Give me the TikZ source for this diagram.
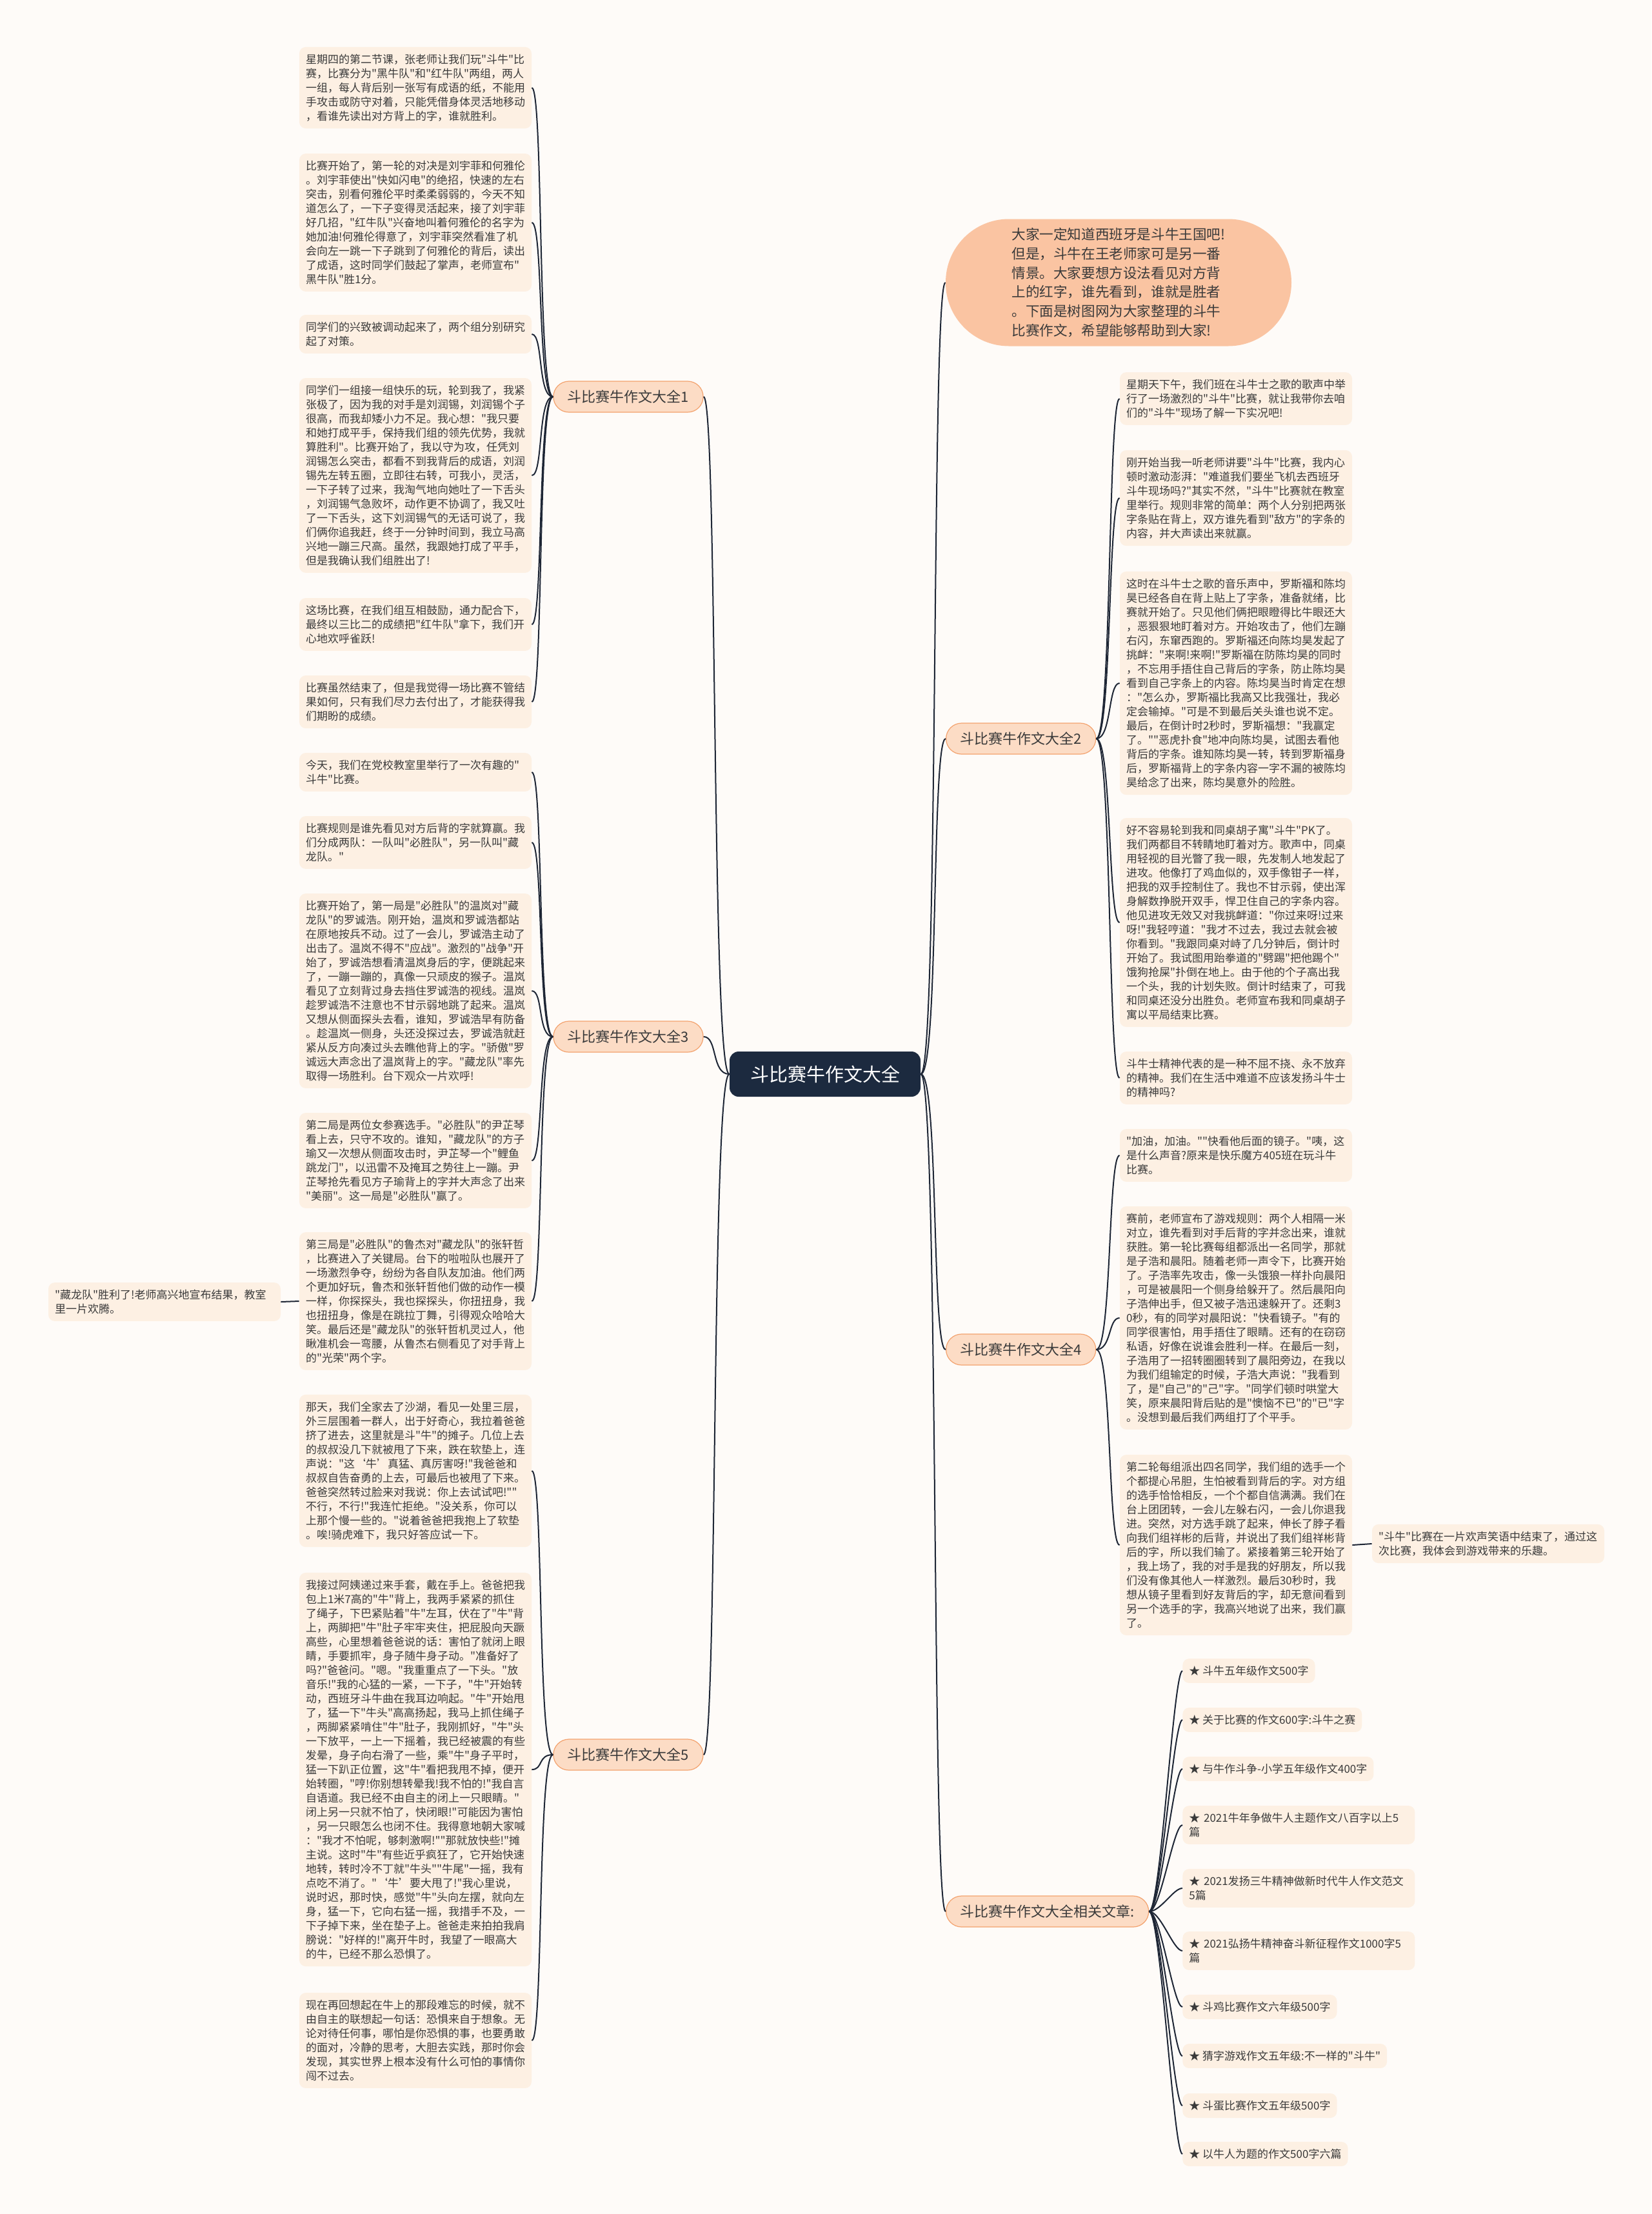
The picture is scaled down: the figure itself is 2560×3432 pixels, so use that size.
\documentclass[tikz,border=0pt]{standalone}
\usepackage{fontspec}
\newfontfamily\cjk{Noto Sans CJK SC}
\definecolor{bgcol}{HTML}{FEFBF8}
\definecolor{leafcol}{HTML}{FDF0E3}
\definecolor{branchcol}{HTML}{FCDCC5}
\definecolor{branchline}{HTML}{F3A26E}
\definecolor{bubblecol}{HTML}{FAC4A2}
\definecolor{rootcol}{HTML}{1C2A3F}
\definecolor{linkcol}{HTML}{1E2635}
\definecolor{textcol}{HTML}{3A3A3A}

\tikzset{
  box/.style={fill=leafcol,rounded corners=5pt,align=left,inner xsep=5pt,
              inner ysep=5.5pt,text=textcol,font=\cjk\fontsize{8.5pt}{11pt}\selectfont},
  leaf/.style={box,text width=170pt},
  branch/.style={fill=branchcol,draw=branchline,line width=0.6pt,rounded corners=12pt,
                 minimum width=116pt,minimum height=24pt,inner xsep=11pt,
                 text=textcol,font=\cjk\fontsize{11pt}{13pt}\selectfont},
  root/.style={fill=rootcol,rounded corners=7pt,minimum width=148pt,minimum height=35pt,
               text=white,font=\cjk\fontsize{14.5pt}{17pt}\selectfont},
  bubble/.style={fill=bubblecol,rounded corners=49pt,minimum width=268pt,minimum height=98.5pt,
                 align=left,text=textcol,font=\cjk\fontsize{10.8pt}{14.8pt}\selectfont},
  link/.style={draw=linkcol,line width=1pt}
}

\begin{document}
\begin{tikzpicture}[x=0.5pt,y=-0.5pt]
  \path[use as bounding box,fill=bgcol] (0,0) rectangle (2560,3432);

  % root and main branches
  \node[root] (root) at (1279,1665) {斗比赛牛作文大全};
  \node[bubble] (intro) at (1734,438) {大家一定知道西班牙是斗牛王国吧!\\但是，斗牛在王老师家可是另一番\\情景。大家要想方设法看见对方背\\上的红字，谁先看到，谁就是胜者\\。下面是树图网为大家整理的斗牛\\比赛作文，希望能够帮助到大家!};
  \node[branch] (b1) at (974,615) {斗比赛牛作文大全1};
  \node[branch] (b3) at (974,1607) {斗比赛牛作文大全3};
  \node[branch] (b5) at (974,2720) {斗比赛牛作文大全5};
  \node[branch,anchor=west] (b2) at (1466,1145) {斗比赛牛作文大全2};
  \node[branch,anchor=west] (b4) at (1466,2092) {斗比赛牛作文大全4};
  \node[branch,anchor=west] (b6) at (1466,2963) {斗比赛牛作文大全相关文章:};

  % essay 1
  \node[leaf] (l1) at (644,136) {星期四的第二节课，张老师让我们玩"斗牛"比\\赛，比赛分为"黑牛队"和"红牛队"两组，两人\\一组，每人背后别一张写有成语的纸，不能用\\手攻击或防守对着，只能凭借身体灵活地移动\\，看谁先读出对方背上的字，谁就胜利。};
  \node[leaf] (l2) at (644,345) {比赛开始了，第一轮的对决是刘宇菲和何雅伦\\。刘宇菲使出"快如闪电"的绝招，快速的左右\\突击，别看何雅伦平时柔柔弱弱的，今天不知\\道怎么了，一下子变得灵活起来，接了刘宇菲\\好几招，"红牛队"兴奋地叫着何雅伦的名字为\\她加油!何雅伦得意了，刘宇菲突然看准了机\\会向左一跳一下子跳到了何雅伦的背后，读出\\了成语，这时同学们鼓起了掌声，老师宣布"\\黑牛队"胜1分。};
  \node[leaf] (l3) at (644,518) {同学们的兴致被调动起来了，两个组分别研究\\起了对策。};
  \node[leaf] (l4) at (644,737) {同学们一组接一组快乐的玩，轮到我了，我紧\\张极了，因为我的对手是刘润锡，刘润锡个子\\很高，而我却矮小力不足。我心想："我只要\\和她打成平手，保持我们组的领先优势，我就\\算胜利"。比赛开始了，我以守为攻，任凭刘\\润锡怎么突击，都看不到我背后的成语，刘润\\锡先左转五圈，立即往右转，可我小，灵活，\\一下子转了过来，我淘气地向她吐了一下舌头\\，刘润锡气急败坏，动作更不协调了，我又吐\\了一下舌头，这下刘润锡气的无话可说了，我\\们俩你追我赶，终于一分钟时间到，我立马高\\兴地一蹦三尺高。虽然，我跟她打成了平手，\\但是我确认我们组胜出了!};
  \node[leaf] (l5) at (644,968) {这场比赛，在我们组互相鼓励，通力配合下，\\最终以三比二的成绩把"红牛队"拿下，我们开\\心地欢呼雀跃!};
  \node[leaf] (l6) at (644,1088) {比赛虽然结束了，但是我觉得一场比赛不管结\\果如何，只有我们尽力去付出了，才能获得我\\们期盼的成绩。};

  % essay 3
  \node[leaf] (l7) at (644,1197) {今天，我们在党校教室里举行了一次有趣的"\\斗牛"比赛。};
  \node[leaf] (l8) at (644,1306) {比赛规则是谁先看见对方后背的字就算赢。我\\们分成两队：一队叫"必胜队"，另一队叫"藏\\龙队。"};
  \node[leaf] (l9) at (644,1536) {比赛开始了，第一局是"必胜队"的温岚对"藏\\龙队"的罗诚浩。刚开始，温岚和罗诚浩都站\\在原地按兵不动。过了一会儿，罗诚浩主动了\\出击了。温岚不得不"应战"。激烈的"战争"开\\始了，罗诚浩想看清温岚身后的字，便跳起来\\了，一蹦一蹦的，真像一只顽皮的猴子。温岚\\看见了立刻背过身去挡住罗诚浩的视线。温岚\\趁罗诚浩不注意也不甘示弱地跳了起来。温岚\\又想从侧面探头去看，谁知，罗诚浩早有防备\\。趁温岚一侧身，头还没探过去，罗诚浩就赶\\紧从反方向凑过头去瞧他背上的字。"骄傲"罗\\诚远大声念出了温岚背上的字。"藏龙队"率先\\取得一场胜利。台下观众一片欢呼!};
  \node[leaf] (l10) at (644,1799) {第二局是两位女参赛选手。"必胜队"的尹芷琴\\看上去，只守不攻的。谁知，"藏龙队"的方子\\瑜又一次想从侧面攻击时，尹芷琴一个"鲤鱼\\跳龙门"，以迅雷不及掩耳之势往上一蹦。尹\\芷琴抢先看见方子瑜背上的字并大声念了出来\\"美丽"。这一局是"必胜队"赢了。};
  \node[leaf] (l11) at (644,2017) {第三局是"必胜队"的鲁杰对"藏龙队"的张轩哲\\，比赛进入了关键局。台下的啦啦队也展开了\\一场激烈争夺，纷纷为各自队友加油。他们两\\个更加好玩，鲁杰和张轩哲他们做的动作一模\\一样，你探探头，我也探探头，你扭扭身，我\\也扭扭身，像是在跳拉丁舞，引得观众哈哈大\\笑。最后还是"藏龙队"的张轩哲机灵过人，他\\瞅准机会一弯腰，从鲁杰右侧看见了对手背上\\的"光荣"两个字。};
  \node[leaf] (l11x) at (255,2018) {"藏龙队"胜利了!老师高兴地宣布结果，教室\\里一片欢腾。};

  % essay 5
  \node[leaf] (l12) at (644,2280) {那天，我们全家去了沙湖，看见一处里三层，\\外三层围着一群人，出于好奇心，我拉着爸爸\\挤了进去，这里就是斗"牛"的摊子。几位上去\\的叔叔没几下就被甩了下来，跌在软垫上，连\\声说："这‘牛’真猛、真厉害呀!"我爸爸和\\叔叔自告奋勇的上去，可最后也被甩了下来。\\爸爸突然转过脸来对我说：你上去试试吧!""\\不行，不行!"我连忙拒绝。"没关系，你可以\\上那个慢一些的。"说着爸爸把我抱上了软垫\\。唉!骑虎难下，我只好答应试一下。};
  \node[leaf] (l13) at (644,2743) {我接过阿姨递过来手套，戴在手上。爸爸把我\\包上1米7高的"牛"背上，我两手紧紧的抓住\\了绳子，下巴紧贴着"牛"左耳，伏在了"牛"背\\上，两脚把"牛"肚子牢牢夹住，把屁股向天蹶\\高些，心里想着爸爸说的话：害怕了就闭上眼\\睛，手要抓牢，身子随牛身子动。"准备好了\\吗?"爸爸问。"嗯。"我重重点了一下头。"放\\音乐!"我的心猛的一紧，一下子，"牛"开始转\\动，西班牙斗牛曲在我耳边响起。"牛"开始甩\\了，猛一下"牛头"高高扬起，我马上抓住绳子\\，两脚紧紧啃住"牛"肚子，我刚抓好，"牛"头\\一下放平，一上一下摇着，我已经被震的有些\\发晕，身子向右滑了一些，乘"牛"身子平时，\\猛一下趴正位置，这"牛"看把我甩不掉，便开\\始转圈，"哼!你别想转晕我!我不怕的!"我自言\\自语道。我已经不由自主的闭上一只眼睛。"\\闭上另一只就不怕了，快闭眼!"可能因为害怕\\，另一只眼怎么也闭不住。我得意地朝大家喊\\："我才不怕呢，够刺激啊!""那就放快些!"摊\\主说。这时"牛"有些近乎疯狂了，它开始快速\\地转，转时冷不丁就"牛头""牛尾"一摇，我有\\点吃不消了。"‘牛’要大甩了!"我心里说，\\说时迟，那时快，感觉"牛"头向左摆，就向左\\身，猛一下，它向右猛一摇，我措手不及，一\\下子掉下来，坐在垫子上。爸爸走来拍拍我肩\\膀说："好样的!"离开牛时，我望了一眼高大\\的牛，已经不那么恐惧了。};
  \node[leaf] (l14) at (644,3163) {现在再回想起在牛上的那段难忘的时候，就不\\由自主的联想起一句话：恐惧来自于想象。无\\论对待任何事，哪怕是你恐惧的事，也要勇敢\\的面对，冷静的思考，大胆去实践，那时你会\\发现，其实世界上根本没有什么可怕的事情你\\闯不过去。};

  % essay 2
  \node[leaf] (r1) at (1916,618) {星期天下午，我们班在斗牛士之歌的歌声中举\\行了一场激烈的"斗牛"比赛，就让我带你去咱\\们的"斗牛"现场了解一下实况吧!};
  \node[leaf] (r2) at (1916,772) {刚开始当我一听老师讲要"斗牛"比赛，我内心\\顿时激动澎湃："难道我们要坐飞机去西班牙\\斗牛现场吗?"其实不然，"斗牛"比赛就在教室\\里举行。规则非常的简单：两个人分别把两张\\字条贴在背上，双方谁先看到"敌方"的字条的\\内容，并大声读出来就赢。};
  \node[leaf] (r3) at (1916,1059) {这时在斗牛士之歌的音乐声中，罗斯福和陈均\\昊已经各自在背上贴上了字条，准备就绪，比\\赛就开始了。只见他们俩把眼瞪得比牛眼还大\\，恶狠狠地盯着对方。开始攻击了，他们左蹦\\右闪，东窜西跑的。罗斯福还向陈均昊发起了\\挑衅："来啊!来啊!"罗斯福在防陈均昊的同时\\，不忘用手捂住自己背后的字条，防止陈均昊\\看到自己字条上的内容。陈均昊当时肯定在想\\："怎么办，罗斯福比我高又比我强壮，我必\\定会输掉。"可是不到最后关头谁也说不定。\\最后，在倒计时2秒时，罗斯福想："我赢定\\了。""恶虎扑食"地冲向陈均昊，试图去看他\\背后的字条。谁知陈均昊一转，转到罗斯福身\\后，罗斯福背上的字条内容一字不漏的被陈均\\昊给念了出来，陈均昊意外的险胜。};
  \node[leaf] (r4) at (1916,1430) {好不容易轮到我和同桌胡子寓"斗牛"PK了。\\我们两都目不转睛地盯着对方。歌声中，同桌\\用轻视的目光瞥了我一眼，先发制人地发起了\\进攻。他像打了鸡血似的，双手像钳子一样，\\把我的双手控制住了。我也不甘示弱，使出浑\\身解数挣脱开双手，悍卫住自己的字条内容。\\他见进攻无效又对我挑衅道："你过来呀!过来\\呀!"我轻哼道："我才不过去，我过去就会被\\你看到。"我跟同桌对峙了几分钟后，倒计时\\开始了。我试图用跆拳道的"劈踢"把他踢个"\\饿狗抢屎"扑倒在地上。由于他的个子高出我\\一个头，我的计划失败。倒计时结束了，可我\\和同桌还没分出胜负。老师宣布我和同桌胡子\\寓以平局结束比赛。};
  \node[leaf] (r5) at (1916,1671) {斗牛士精神代表的是一种不屈不挠、永不放弃\\的精神。我们在生活中难道不应该发扬斗牛士\\的精神吗?};

  % essay 4
  \node[leaf] (r6) at (1916,1791) {"加油，加油。""快看他后面的镜子。"咦，这\\是什么声音?原来是快乐魔方405班在玩斗牛\\比赛。};
  \node[leaf] (r7) at (1916,2043) {赛前，老师宣布了游戏规则：两个人相隔一米\\对立，谁先看到对手后背的字并念出来，谁就\\获胜。第一轮比赛每组都派出一名同学，那就\\是子浩和晨阳。随着老师一声令下，比赛开始\\了。子浩率先攻击，像一头饿狼一样扑向晨阳\\，可是被晨阳一个侧身给躲开了。然后晨阳向\\子浩伸出手，但又被子浩迅速躲开了。还剩3\\0秒，有的同学对晨阳说："快看镜子。"有的\\同学很害怕，用手捂住了眼睛。还有的在窃窃\\私语，好像在说谁会胜利一样。在最后一刻，\\子浩用了一招转圈圈转到了晨阳旁边，在我以\\为我们组输定的时候，子浩大声说："我看到\\了，是"自己"的"己"字。"同学们顿时哄堂大\\笑，原来晨阳背后贴的是"懊恼不已"的"已"字\\。没想到最后我们两组打了个平手。};
  \node[leaf] (r8) at (1916,2395) {第二轮每组派出四名同学，我们组的选手一个\\个都提心吊胆，生怕被看到背后的字。对方组\\的选手恰恰相反，一个个都自信满满。我们在\\台上团团转，一会儿左躲右闪，一会儿你退我\\进。突然，对方选手跳了起来，伸长了脖子看\\向我们组祥彬的后背，并说出了我们组祥彬背\\后的字，所以我们输了。紧接着第三轮开始了\\，我上场了，我的对手是我的好朋友，所以我\\们没有像其他人一样激烈。最后30秒时，我\\想从镜子里看到好友背后的字，却无意间看到\\另一个选手的字，我高兴地说了出来，我们赢\\了。};
  \node[leaf] (r8x) at (2307,2393) {"斗牛"比赛在一片欢声笑语中结束了，通过这\\次比赛，我体会到游戏带来的乐趣。};

  % related articles
  \node[box,anchor=west] (a1) at (1833,2590) {★ 斗牛五年级作文500字};
  \node[box,anchor=west] (a2) at (1833,2666) {★ 关于比赛的作文600字:斗牛之赛};
  \node[box,anchor=west] (a3) at (1833,2742) {★ 与牛作斗争-小学五年级作文400字};
  \node[leaf,anchor=west] (a4) at (1833,2829) {★ 2021牛年争做牛人主题作文八百字以上5\\篇};
  \node[leaf,anchor=west] (a5) at (1833,2927) {★ 2021发扬三牛精神做新时代牛人作文范文\\5篇};
  \node[leaf,anchor=west] (a6) at (1833,3024) {★ 2021弘扬牛精神奋斗新征程作文1000字5\\篇};
  \node[box,anchor=west] (a7) at (1833,3111) {★ 斗鸡比赛作文六年级500字};
  \node[box,anchor=west] (a8) at (1833,3187) {★ 猜字游戏作文五年级:不一样的"斗牛"};
  \node[box,anchor=west] (a9) at (1833,3264) {★ 斗蛋比赛作文五年级500字};
  \node[box,anchor=west] (a10) at (1833,3339) {★ 以牛人为题的作文500字六篇};

  % connectors
  \foreach \b in {b1,b3,b5}
    \draw[link] (root.west) .. controls +(-28,0) and +(22,0) .. (\b.east);
  \foreach \b in {intro,b2,b4,b6}
    \draw[link] (root.east) .. controls +(28,0) and +(-22,0) .. (\b.west);
  \foreach \n in {l1,l2,l3,l4,l5,l6}
    \draw[link] (b1.west) .. controls +(-24,0) and +(18,0) .. (\n.east);
  \foreach \n in {l7,l8,l9,l10,l11}
    \draw[link] (b3.west) .. controls +(-24,0) and +(18,0) .. (\n.east);
  \foreach \n in {l12,l13,l14}
    \draw[link] (b5.west) .. controls +(-24,0) and +(18,0) .. (\n.east);
  \foreach \n in {r1,r2,r3,r4,r5}
    \draw[link] (b2.east) .. controls +(24,0) and +(-18,0) .. (\n.west);
  \foreach \n in {r6,r7,r8}
    \draw[link] (b4.east) .. controls +(24,0) and +(-18,0) .. (\n.west);
  \foreach \n in {a1,a2,a3,a4,a5,a6,a7,a8,a9,a10}
    \draw[link] (b6.east) .. controls +(18,0) and +(-14,0) .. (\n.west);
  \draw[link] (l11.west) -- (l11x.east);
  \draw[link] (r8.east) -- (r8x.west);
\end{tikzpicture}
\end{document}
